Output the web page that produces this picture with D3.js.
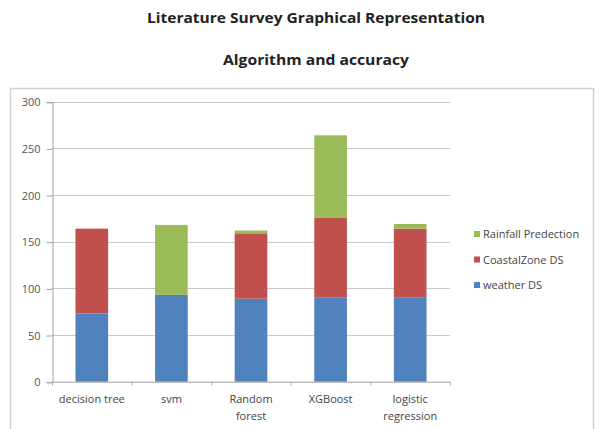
<!DOCTYPE html>
<html>
<head>
<meta charset="utf-8">
<script src="https://cdn.jsdelivr.net/npm/d3@7"></script>
<style>
  html, body { margin: 0; padding: 0; background: #fff; }
  svg { display: block; }
  text { font-family: "Open Sans", "Liberation Sans", sans-serif; }
</style>
</head>
<body>
<svg id="chart" width="600" height="429"></svg>
<script>
// Algorithms on the category axis (line breaks split with "\n")
const categories = ["decision tree", "svm", "Random\nforest", "XGBoost", "logistic\nregression"];
// Stacked series, bottom to top
const weatherDS    = [73, 93, 89, 90, 90];
const coastalDS    = [91, 0, 70, 86, 74];
const rainfallPred = [0, 75, 3, 88, 5];
const seriesNames  = ["weather DS", "CoastalZone DS", "Rainfall Predection"];
const seriesColors = ["#4F81BD", "#C0504D", "#9BBB59"];
const yTicks = [0, 50, 100, 150, 200, 250, 300];

const svg = d3.select("#chart");

// Titles
svg.append("text").attr("x", 316).attr("y", 23).attr("text-anchor", "middle")
  .attr("font-size", 13.5).attr("font-weight", "bold").attr("fill", "#222")
  .attr("textLength", 338).attr("lengthAdjust", "spacingAndGlyphs")
  .text("Literature Survey Graphical Representation");
svg.append("text").attr("x", 316).attr("y", 65).attr("text-anchor", "middle")
  .attr("font-size", 13.5).attr("font-weight", "bold").attr("fill", "#222")
  .attr("textLength", 186).attr("lengthAdjust", "spacingAndGlyphs")
  .text("Algorithm and accuracy");

// Chart area frame
svg.append("rect").attr("x", 10.5).attr("y", 88.5).attr("width", 583).attr("height", 360)
  .attr("fill", "none").attr("stroke", "#d0d0d0").attr("stroke-width", 1.5);

const plotLeft = 52, plotRight = 450, plotTop = 101.7, plotBottom = 381.7;

const x = d3.scaleBand().domain(categories).range([plotLeft, plotRight]).paddingInner(0.59).paddingOuter(0.295);
const y = d3.scaleLinear().domain([0, 300]).range([plotBottom, plotTop]);

// Gridlines
svg.append("g").selectAll("line").data(yTicks.filter(d => d > 0)).join("line")
  .attr("x1", plotLeft).attr("x2", plotRight)
  .attr("y1", d => Math.round(y(d)) + 0.5).attr("y2", d => Math.round(y(d)) + 0.5)
  .attr("stroke", "#c8c8c8").attr("stroke-width", 1.2);

// Stacked bars
const rows = categories.map((c, i) => ({
  cat: c, "weather DS": weatherDS[i], "CoastalZone DS": coastalDS[i], "Rainfall Predection": rainfallPred[i]
}));
const stack = d3.stack().keys(seriesNames)(rows);
svg.append("g").selectAll("g").data(stack).join("g")
  .attr("fill", (d, i) => seriesColors[i])
  .selectAll("rect").data(d => d).join("rect")
  .attr("x", d => x(d.data.cat))
  .attr("width", x.bandwidth())
  .attr("y", d => y(d[1]))
  .attr("height", d => y(d[0]) - y(d[1]));

// Y axis
const yAxis = d3.axisLeft(y).tickValues(yTicks).tickSize(6).tickPadding(6);
const gy = svg.append("g").attr("transform", `translate(${plotLeft + 0.5},0.5)`).call(yAxis);
gy.select(".domain").attr("stroke", "#a0a0a0");
gy.selectAll(".tick line").attr("stroke", "#a0a0a0");
gy.selectAll(".tick text").attr("font-size", 11).attr("fill", "#555")
  .attr("font-family", "'Open Sans', sans-serif");

// X axis: line and ticks at category boundaries
const gx = svg.append("g");
gx.append("line").attr("x1", plotLeft).attr("x2", plotRight)
  .attr("y1", plotBottom + 0.5).attr("y2", plotBottom + 0.5).attr("stroke", "#a0a0a0");
const step = x.step();
gx.selectAll("line.bt").data(d3.range(categories.length + 1)).join("line").attr("class", "bt")
  .attr("x1", i => plotLeft + i * step + 0.5).attr("x2", i => plotLeft + i * step + 0.5)
  .attr("y1", plotBottom).attr("y2", plotBottom + 4).attr("stroke", "#b0b0b0");
gx.selectAll("text").data(categories).join("text")
  .attr("text-anchor", "middle").attr("font-size", 11).attr("fill", "#444")
  .attr("transform", d => `translate(${x(d) + x.bandwidth() / 2},403)`)
  .each(function (d) {
    const t = d3.select(this);
    d.split("\n").forEach((line, k) => {
      t.append("tspan").attr("x", 0).attr("dy", k === 0 ? 0 : 17).text(line);
    });
  });

// Legend (top entry is the top of the stack)
const legendItems = seriesNames.map((n, i) => ({ name: n, color: seriesColors[i] })).reverse();
const lg = svg.append("g").selectAll("g").data(legendItems).join("g")
  .attr("transform", (d, i) => `translate(474,${234 + i * 25.5})`);
lg.append("rect").attr("x", 0).attr("y", -3).attr("width", 6).attr("height", 6).attr("fill", d => d.color);
lg.append("text").attr("x", 9).attr("y", 4).attr("font-size", 11).attr("fill", "#444").text(d => d.name);
</script>
</body>
</html>
